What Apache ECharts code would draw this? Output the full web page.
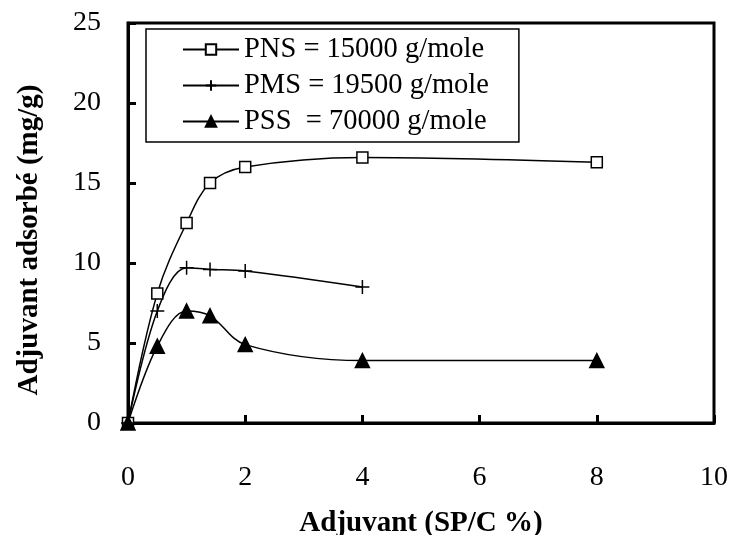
<!DOCTYPE html>
<html>
<head>
<meta charset="utf-8">
<script src="https://cdn.jsdelivr.net/npm/echarts@6/dist/echarts.min.js"></script>
<style>
  html, body { margin: 0; padding: 0; background: #fff; }
  #chart { width: 731px; height: 535px; }
</style>
</head>
<body>
<div id="chart"></div>
<script>
// Adsorbed admixture vs dosage for three superplasticizers
const dosePNS = [0, 0.5, 1, 1.4, 2, 4, 8];
const valPNS  = [0, 8.1, 12.5, 15.0, 16.0, 16.6, 16.3];
const dosePMS = [0, 0.5, 1, 1.4, 2, 4];
const valPMS  = [0, 7.0, 9.7, 9.6, 9.5, 8.5];
const dosePSS = [0, 0.5, 1, 1.4, 2, 4, 8];
const valPSS  = [0, 4.8, 7.0, 6.7, 4.9, 3.9, 3.9];
const seriesNames = ['PNS = 15000 g/mole', 'PMS = 19500 g/mole', 'PSS  = 70000 g/mole'];
const xTicks = [0, 2, 4, 6, 8, 10];
const yTicks = [0, 5, 10, 15, 20, 25];

const pairs = (xs, ys) => xs.map((x, i) => [x, ys[i]]);
const FONT = '"Liberation Serif", "Times New Roman", serif';
const plusPath = 'path://M0,6L12,6M6,0L6,12';

const chart = echarts.init(document.getElementById('chart'), null, { renderer: 'canvas' });

const lineSeries = (name, data, symbol, size, fill) => ({
  name, type: 'line', data, smooth: 0.35, symbol, symbolSize: size,
  showAllSymbol: true, clip: false,
  lineStyle: { color: '#000', width: 1.5 },
  itemStyle: { color: fill, borderColor: '#000', borderWidth: 1.5 },
  emphasis: { disabled: true },
  animation: false
});

chart.setOption({
  backgroundColor: '#fff',
  animation: false,
  grid: {
    left: 128, top: 23, width: 586, height: 400,
    outerBoundsMode: 'none', containLabel: false,
    show: true, borderColor: '#000', borderWidth: 3, backgroundColor: 'transparent'
  },
  legend: {
    orient: 'vertical', left: 146, top: 29,
    padding: [6, 30, 6, 36],
    itemWidth: 56, itemHeight: 13, itemGap: 7,
    borderColor: '#000', borderWidth: 1.5,
    textStyle: { fontFamily: FONT, fontSize: 28.5, color: '#000' },
    data: seriesNames
  },
  xAxis: {
    type: 'value', min: 0, max: 10, interval: 2,
    name: 'Adjuvant (SP/C %)', nameLocation: 'middle', nameGap: 86,
    nameTextStyle: { fontFamily: FONT, fontSize: 29, fontWeight: 'bold', color: '#000' },
    axisLine: { lineStyle: { color: '#000', width: 3 } },
    axisTick: { inside: true, length: 8, lineStyle: { color: '#000', width: 3 } },
    axisLabel: {
      margin: 41, fontFamily: FONT, fontSize: 28, color: '#000',
      formatter: v => xTicks.includes(v) ? String(v) : ''
    },
    splitLine: { show: false }
  },
  yAxis: {
    type: 'value', min: 0, max: 25, interval: 5,
    name: 'Adjuvant adsorbé (mg/g)', nameLocation: 'middle', nameGap: 84, nameRotate: 90,
    nameTextStyle: {
      fontFamily: FONT, fontSize: 29, fontWeight: 'bold', color: '#000',
      padding: [0, 34, 0, 0]
    },
    axisLine: { lineStyle: { color: '#000', width: 3 } },
    axisTick: { inside: true, length: 8, lineStyle: { color: '#000', width: 3 } },
    axisLabel: {
      margin: 27, fontFamily: FONT, fontSize: 28, color: '#000',
      formatter: v => yTicks.includes(v) ? String(v) : ''
    },
    splitLine: { show: false }
  },
  series: [
    lineSeries(seriesNames[0], pairs(dosePNS, valPNS), 'rect', 11, '#fff'),
    lineSeries(seriesNames[1], pairs(dosePMS, valPMS), plusPath, 14, 'transparent'),
    lineSeries(seriesNames[2], pairs(dosePSS, valPSS), 'triangle', 14, '#000')
  ]
});
</script>
</body>
</html>
